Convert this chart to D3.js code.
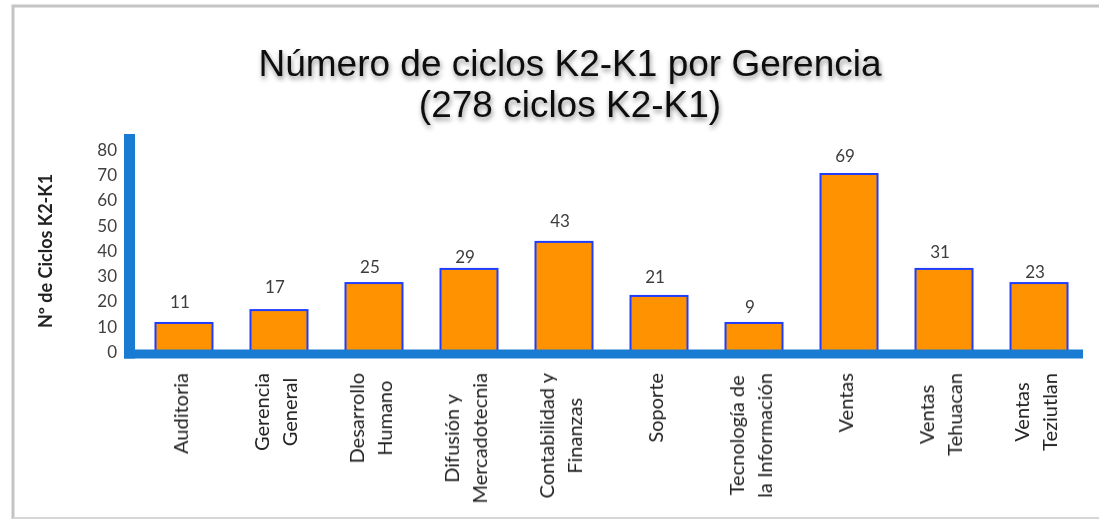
<!DOCTYPE html>
<html>
<head>
<meta charset="utf-8">
<script src="https://cdn.jsdelivr.net/npm/d3@7"></script>
<style>
    body { margin: 0; background: #ffffff; }
    svg { display: block; }
</style>
</head>
<body>
<svg id="chart" width="1099" height="519"></svg>
<script>
// categorias (lineas de cada etiqueta del eje x)
let gerencias = [
    ['Auditoria'],
    ['Gerencia', 'General'],
    ['Desarrollo', 'Humano'],
    ['Difusión y', 'Mercadotecnia'],
    ['Contabilidad y', 'Finanzas'],
    ['Soporte'],
    ['Tecnología de', 'la Información'],
    ['Ventas'],
    ['Ventas', 'Tehuacan'],
    ['Ventas', 'Teziutlan']
];
// valores impresos sobre cada barra
let ciclos = [11, 17, 25, 29, 43, 21, 9, 69, 31, 23];
// altura con la que aparece dibujada cada barra en la imagen
let alturaBarra = [11.5, 16.6, 27.3, 32.9, 43.6, 22.2, 11.5, 70.5, 32.9, 27.3];
let ticksY = [0, 10, 20, 30, 40, 50, 60, 70, 80];

let svg = d3.select('#chart');

// sombra del titulo
let defs = svg.append('defs');
defs.append('filter')
    .attr('id', 'sombra')
    .attr('x', '-10%').attr('y', '-30%')
    .attr('width', '120%').attr('height', '180%')
    .append('feDropShadow')
    .attr('dx', 1).attr('dy', 3)
    .attr('stdDeviation', 2.5)
    .attr('flood-color', '#000')
    .attr('flood-opacity', 0.45);
defs.append('filter')
    .attr('id', 'suave')
    .append('feGaussianBlur')
    .attr('stdDeviation', 0.6);

// marco gris
svg.append('path')
   .attr('d', 'M13,519 L13,6 L1099,6')
   .attr('fill', 'none')
   .attr('stroke', '#c4c4c4')
   .attr('stroke-width', 3)
   .attr('filter', 'url(#suave)');
svg.append('line')
   .attr('x1', 13).attr('x2', 1099)
   .attr('y1', 518).attr('y2', 518)
   .attr('stroke', '#d6d6d6')
   .attr('stroke-width', 2);

// titulo
let titulo = svg.append('g').attr('filter', 'url(#sombra)');
titulo.append('text')
      .attr('x', 570).attr('y', 76)
      .attr('text-anchor', 'middle')
      .style('font-family', 'Liberation Sans, Arial, sans-serif')
      .style('font-size', '37px')
      .attr('fill', '#111')
      .text('Número de ciclos K2-K1 por Gerencia');
titulo.append('text')
      .attr('x', 570).attr('y', 117)
      .attr('text-anchor', 'middle')
      .style('font-family', 'Liberation Sans, Arial, sans-serif')
      .style('font-size', '37px')
      .attr('fill', '#111')
      .text('(278 ciclos K2-K1)');

// escalas
let x = d3.scaleBand()
          .domain(d3.range(gerencias.length))
          .range([134, 1081])
          .paddingInner(0.4)
          .paddingOuter(0.184);

let y = d3.scaleLinear()
          .domain([0, 80])
          .range([352, 150]);

let desplazaBarra = 4;

// barras
svg.append('g')
   .selectAll('rect')
   .data(alturaBarra)
   .enter()
   .append('rect')
   .attr('x', (d, i) => x(i) + desplazaBarra)
   .attr('y', d => y(d))
   .attr('width', x.bandwidth())
   .attr('height', d => y(0) - y(d))
   .attr('fill', '#ff9200')
   .attr('stroke', '#1f3dff')
   .attr('stroke-width', 2);

// ejes como barras azules gruesas
svg.append('rect')
   .attr('x', 124).attr('y', 134)
   .attr('width', 11).attr('height', 224.5)
   .attr('fill', '#1a7bd2');
svg.append('rect')
   .attr('x', 124).attr('y', 349.5)
   .attr('width', 959).attr('height', 9)
   .attr('fill', '#1a7bd2');

// etiquetas del eje y
let ejeY = d3.axisLeft(y)
             .tickValues(ticksY)
             .tickSize(0)
             .tickPadding(0);
let gY = svg.append('g')
            .attr('transform', 'translate(117,0)')
            .call(ejeY);
gY.select('.domain').remove();
gY.selectAll('text')
  .style('font-family', 'Lato, sans-serif')
  .style('font-size', '17px')
  .attr('fill', '#404040')
  .attr('filter', 'url(#suave)');

svg.append('text')
   .attr('transform', 'translate(46,251) rotate(-90)')
   .attr('dy', '0.35em')
   .attr('text-anchor', 'middle')
   .style('font-family', 'Lato, sans-serif')
   .style('font-size', '18px')
   .style('font-weight', 'bold')
   .attr('fill', '#222')
   .attr('filter', 'url(#suave)')
   .text('Nº de Ciclos K2-K1');

// valores sobre las barras
svg.append('g')
   .selectAll('text')
   .data(ciclos)
   .enter()
   .append('text')
   .attr('x', (d, i) => x(i) + x.bandwidth() / 2)
   .attr('y', d => y(d) - 16)
   .attr('text-anchor', 'middle')
   .style('font-family', 'Lato, sans-serif')
   .style('font-size', '17px')
   .attr('fill', '#3c3c3c')
   .attr('filter', 'url(#suave)')
   .text(d => d);

// etiquetas de categoria giradas, lineas centradas entre si
let gX = svg.append('g');
gerencias.forEach((lineas, i) => {
    let cx = x(i) + x.bandwidth() / 2;
    let grupo = gX.append('g');
    let textos = lineas.map((t, k) => grupo.append('text')
        .attr('text-anchor', 'middle')
        .attr('dominant-baseline', 'central')
        .style('font-family', 'Lato, sans-serif')
        .style('font-size', '20px')
        .attr('fill', '#222')
        .attr('filter', 'url(#suave)')
        .text(t));
    let largo = d3.max(textos, t => t.node().getComputedTextLength());
    let cy = 373 + largo / 2;
    textos.forEach((t, k) => {
        let lx = cx + (k - (lineas.length - 1) / 2) * 28;
        t.attr('transform', `translate(${lx},${cy}) rotate(-90)`);
    });
});
</script>
</body>
</html>
